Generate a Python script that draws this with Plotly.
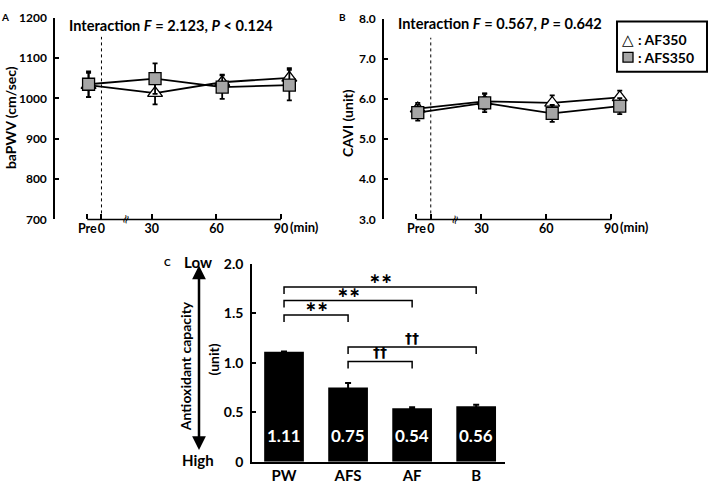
import plotly.graph_objects as go

W, H = 709, 489
FONT = "Lato"

# ---------- data ----------
time_labels = ["Pre", "0", "30", "60", "90"]
time_tick_pos = [0, 0.22, 1, 2, 3]
meas_pos = [0.02, 1.05, 2.09, 3.13]  # Pre, 30, 60, 90

bapwv_af350 = [1033, 1013, 1040, 1051]
bapwv_af350_err = [30, 28, 19, 24]
bapwv_afs350 = [1035, 1049, 1028, 1033]
bapwv_afs350_err = [32, 38, 29, 38]

cavi_af350 = [5.76, 5.94, 5.90, 6.04]
cavi_af350_err = [0.14, 0.20, 0.19, 0.17]
cavi_afs350 = [5.66, 5.90, 5.64, 5.82]
cavi_afs350_err = [0.20, 0.23, 0.21, 0.20]

bapwv_ticks = [700, 800, 900, 1000, 1100, 1200]
cavi_ticks = [3.0, 4.0, 5.0, 6.0, 7.0, 8.0]

groups = ["PW", "AFS", "AF", "B"]
antiox = [1.11, 0.75, 0.54, 0.56]
antiox_err = [0.005, 0.045, 0.01, 0.015]
antiox_ticks = [0, 0.5, 1.0, 1.5, 2.0]
antiox_ticktext = ["0", "0.5", "1.0", "1.5", "2.0"]

# significance brackets: (from, to, level, symbol)
brackets = [
    (0, 3, 1.766, "∗∗"),
    (0, 2, 1.629, "∗∗"),
    (0, 1, 1.483, "∗∗"),
    (1, 3, 1.159, "††"),
    (1, 2, 1.013, "††"),
]

GRAY = "#a6a6a6"

fig = go.Figure()

def px_x(p):
    return p / W

def px_y(p):
    return 1 - p / H

# ---------- panel A ----------
eb = dict(type="data", color="black", thickness=1.8, width=2.5)
fig.add_trace(go.Scatter(x=meas_pos, y=bapwv_af350, mode="lines+markers",
                         error_y=dict(array=bapwv_af350_err, **eb),
                         line=dict(color="black", width=1.8),
                         marker=dict(symbol="triangle-up", size=13, color="white",
                                     line=dict(color="black", width=1.3)),
                         xaxis="x", yaxis="y", showlegend=False))
fig.add_trace(go.Scatter(x=meas_pos, y=bapwv_afs350, mode="lines+markers",
                         error_y=dict(array=bapwv_afs350_err, **eb),
                         line=dict(color="black", width=1.8),
                         marker=dict(symbol="square", size=12, color=GRAY,
                                     line=dict(color="black", width=1.3)),
                         xaxis="x", yaxis="y", showlegend=False))

# ---------- panel B ----------
fig.add_trace(go.Scatter(x=meas_pos, y=cavi_af350, mode="lines+markers",
                         error_y=dict(array=cavi_af350_err, **eb),
                         line=dict(color="black", width=1.8),
                         marker=dict(symbol="triangle-up", size=13, color="white",
                                     line=dict(color="black", width=1.3)),
                         xaxis="x2", yaxis="y2", showlegend=False))
fig.add_trace(go.Scatter(x=meas_pos, y=cavi_afs350, mode="lines+markers",
                         error_y=dict(array=cavi_afs350_err, **eb),
                         line=dict(color="black", width=1.8),
                         marker=dict(symbol="square", size=12, color=GRAY,
                                     line=dict(color="black", width=1.3)),
                         xaxis="x2", yaxis="y2", showlegend=False))

# ---------- panel C ----------
gx = list(range(len(groups)))
fig.add_trace(go.Bar(x=gx, y=antiox, width=0.62, marker=dict(color="black", line=dict(width=0)),
                     error_y=dict(type="data", array=antiox_err, color="black",
                                  thickness=2, width=3),
                     xaxis="x3", yaxis="y3", showlegend=False))

def time_xaxis(domain, rng):
    return dict(domain=domain, range=rng, showline=False, showgrid=False, zeroline=False,
                tickmode="array", tickvals=time_tick_pos, ticktext=time_labels,
                ticks="inside", ticklen=5, tickwidth=1.5, tickcolor="black", tickangle=0,
                tickfont=dict(family=FONT, size=12.5, color="black", weight="bold"),
                fixedrange=True)

def val_yaxis(domain, rng, tv, tt=None, size=12, anchor="x"):
    d = dict(domain=domain, range=rng, showline=True, linecolor="black", linewidth=1.5,
             showgrid=False, zeroline=False, tickmode="array", tickvals=tv,
             ticks="inside", ticklen=4, tickwidth=1.5, tickcolor="black",
             tickfont=dict(family=FONT, size=size, color="black", weight="bold"),
             ticklabelstandoff=4, anchor=anchor)
    if tt is not None:
        d["ticktext"] = tt
    return d

fig.update_layout(
    width=W, height=H, margin=dict(l=0, r=0, t=0, b=0),
    paper_bgcolor="white", plot_bgcolor="rgba(0,0,0,0)",
    font=dict(family=FONT, color="black"),
    xaxis=dict(**time_xaxis([px_x(55), px_x(330)], [-0.5, 3.76]), anchor="y"),
    yaxis=val_yaxis([px_y(218), px_y(9)], [700, 1200],
                    bapwv_ticks, [str(v) for v in bapwv_ticks], anchor="x"),
    xaxis2=dict(**time_xaxis([px_x(384), px_x(660)], [-0.5, 3.75]), anchor="y2"),
    yaxis2=val_yaxis([px_y(218), px_y(10)], [3, 8],
                     cavi_ticks, [f"{v:.1f}" for v in cavi_ticks], anchor="x2"),
    xaxis3=dict(domain=[px_x(252), px_x(505)], range=[-0.5, 3.45], anchor="y3",
                showline=True, linecolor="black", linewidth=1.5, showgrid=False,
                zeroline=False, tickmode="array", tickvals=gx, ticktext=groups, ticks="",
                tickangle=0,
                tickfont=dict(family=FONT, size=15, color="black", weight="bold")),
    yaxis3=val_yaxis([px_y(469), px_y(264)], [0, 2], antiox_ticks, antiox_ticktext,
                     size=14, anchor="x3"),
)

shapes = []
annos = []

def txt(x, y, text, size=14, xanchor="center", yanchor="middle", angle=0,
        family=FONT, color="black", weight="bold"):
    annos.append(dict(xref="paper", yref="paper", x=px_x(x), y=px_y(y), text=text,
                      showarrow=False, xanchor=xanchor, yanchor=yanchor, textangle=angle,
                      font=dict(family=family, size=size, color=color, weight=weight)))

# x-axis baselines, dotted lines and break marks for A and B
for xa, ya in (("x", "y"), ("x2", "y2")):
    shapes.append(dict(type="line", xref=xa, yref=f"{ya} domain", x0=time_tick_pos[0],
                       x1=time_tick_pos[-1], y0=0, y1=0,
                       line=dict(color="black", width=1.5)))
    shapes.append(dict(type="line", xref=xa, yref=f"{ya} domain", x0=time_tick_pos[1],
                       x1=time_tick_pos[1], y0=0, y1=0.905,
                       line=dict(color="black", width=1, dash="dot")))
    annos.append(dict(xref=xa, yref=f"{ya} domain", x=0.6, y=0, text="≈",
                      xanchor="center", yanchor="middle",
                      showarrow=False, textangle=-70,
                      font=dict(family="DejaVu Sans", size=12, color="black")))
    annos.append(dict(xref=xa, yref=f"{ya} domain", x=time_tick_pos[-1], y=0,
                      xanchor="left", yanchor="middle", xshift=7, yshift=-8,
                      text="(min)", showarrow=False,
                      font=dict(family=FONT, size=13, color="black", weight="bold")))

# titles
txt(67, 17, "Interaction <i>F</i> = 2.123, <i>P</i> &lt; 0.124", size=14.6, xanchor="left")
txt(396, 15, "Interaction <i>F</i> = 0.567, <i>P</i> = 0.642", size=14.6, xanchor="left")

# y titles
txt(10, 113, "baPWV (cm/sec)", angle=-90)
txt(348, 118, "CAVI (unit)", angle=-90)
txt(185, 370, "Antioxidant capacity", angle=-90)
txt(213, 363, "(unit)", angle=-90)

# panel letters
txt(5, 8, "A", size=10)
txt(342, 8, "B", size=10)
txt(167, 262, "C", size=10)

# Low / High with double arrow
txt(198, 262, "Low", size=15)
txt(198, 467, "High", size=15)
annos.append(dict(xref="paper", yref="paper", x=px_x(199), y=px_y(457), ax=0, ay=-186,
                  axref="pixel", ayref="pixel", text="", showarrow=True,
                  arrowhead=2, arrowside="end+start", arrowsize=1.1, arrowwidth=2.5,
                  arrowcolor="black", startarrowhead=2, startarrowsize=1.1))

# legend box
shapes.append(dict(type="rect", xref="paper", yref="paper", x0=px_x(617), x1=px_x(707),
                   y0=px_y(65), y1=px_y(13), line=dict(color="black", width=2),
                   fillcolor="white"))
txt(628, 32, "△", size=15, family="DejaVu Sans", weight="normal")
shapes.append(dict(type="rect", xref="paper", yref="paper", x0=px_x(623), x1=px_x(633),
                   y0=px_y(55), y1=px_y(45), line=dict(color="black", width=1.3),
                   fillcolor=GRAY))
txt(636, 32, ": AF350", xanchor="left")
txt(636, 50, ": AFS350", xanchor="left")

# bar value labels
for i, v in enumerate(antiox):
    annos.append(dict(xref="x3", yref="y3", x=gx[i], y=0.26, text=f"{v:.2f}",
                      showarrow=False, xanchor="center", yanchor="middle",
                      font=dict(family=FONT, size=17, color="white", weight="bold")))

# significance brackets
drop = 0.07
for a, b, lvl, sym in brackets:
    shapes.append(dict(type="path", xref="x3", yref="y3",
                       path=f"M {gx[a]},{lvl - drop} L {gx[a]},{lvl} L {gx[b]},{lvl} L {gx[b]},{lvl - drop}",
                       line=dict(color="black", width=1.5)))
    annos.append(dict(xref="x3", yref="y3", x=(gx[a] + gx[b]) / 2, y=lvl,
                      xanchor="center", yanchor="bottom", yshift=-1, text=sym,
                      showarrow=False,
                      font=dict(family="DejaVu Sans", size=14, color="black", weight="bold")))

fig.update_layout(shapes=shapes, annotations=annos)
fig.write_html("out.html", config={"displayModeBar": False},
               post_script="document.body.style.margin='0';")
